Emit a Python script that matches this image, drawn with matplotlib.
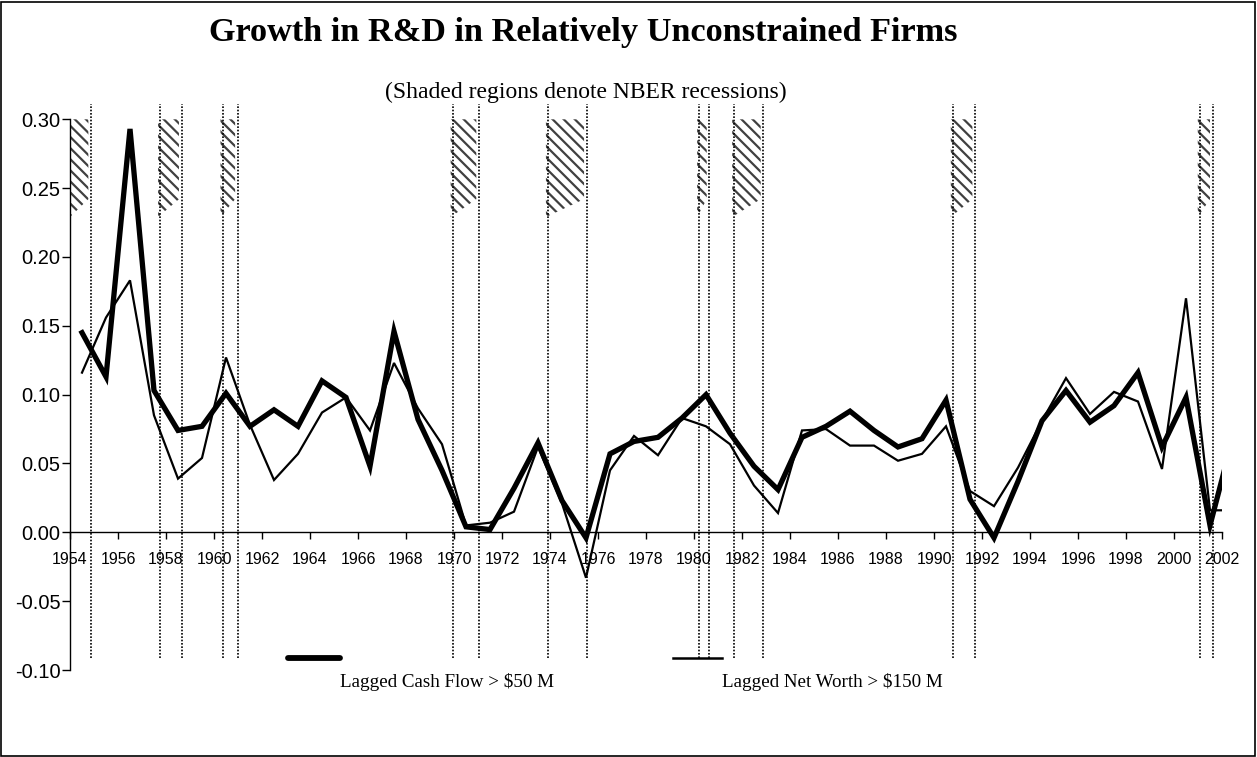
import matplotlib
matplotlib.use("Agg")
import matplotlib.pyplot as plt
from matplotlib.patches import Polygon, Rectangle
from matplotlib.lines import Line2D
import numpy as np

# ---- data ----
years = list(range(1954, 2003))  # plotted at mid-year
cash_flow = [0.145, 0.113, 0.293, 0.103, 0.074, 0.077, 0.101, 0.077, 0.089, 0.077,
             0.110, 0.098, 0.048, 0.146, 0.082, 0.045, 0.004, 0.002, 0.032, 0.065,
             0.023, -0.004, 0.057, 0.066, 0.069, 0.083, 0.100, 0.072, 0.048, 0.031,
             0.069, 0.077, 0.088, 0.074, 0.062, 0.068, 0.096, 0.024, -0.004, 0.037,
             0.081, 0.103, 0.080, 0.092, 0.116, 0.062, 0.098, 0.005, 0.072]
net_worth = [0.116, 0.156, 0.183, 0.085, 0.039, 0.054, 0.127, 0.078, 0.038, 0.057,
             0.087, 0.098, 0.074, 0.123, 0.090, 0.064, 0.005, 0.007, 0.015, 0.062,
             0.021, -0.033, 0.045, 0.070, 0.056, 0.083, 0.077, 0.064, 0.034, 0.014,
             0.074, 0.075, 0.063, 0.063, 0.052, 0.057, 0.077, 0.030, 0.019, 0.047,
             0.081, 0.112, 0.086, 0.102, 0.095, 0.046, 0.170, 0.016, 0.016]
rec_start = [1954.0, 1957.76, 1960.36, 1969.95, 1973.92, 1980.22, 1981.68, 1990.79, 2001.08]
rec_end = [1954.875, 1958.65, 1960.99, 1971.04, 1975.53, 1980.64, 1982.89, 1991.71, 2001.61]
yticks = [-0.10, -0.05, 0.00, 0.05, 0.10, 0.15, 0.20, 0.25, 0.30]
xticks = list(range(1954, 2003, 2))

title = "Growth in R&D in Relatively Unconstrained Firms"
subtitle = "(Shaded regions denote NBER recessions)"
labels = ["Lagged Cash Flow > $50 M", "Lagged Net Worth > $150 M"]

plt.rcParams["hatch.linewidth"] = 1.6

W, H = 1257, 757
fig = plt.figure(figsize=(W / 100, H / 100), dpi=100)
fig.patch.set_facecolor("white")

ax = fig.add_axes([70 / W, 87 / H, (1222 - 70) / W, (670 - 119.3) / H])
ax.set_xlim(1954, 2002)
ax.set_ylim(-0.10, 0.30)

x = np.array(years) + 0.5

# recession markers
for i, (s, e) in enumerate(zip(rec_start, rec_end)):
    if i > 0:
        ax.plot([s, s], [-0.0915, 0.311], color="black", lw=1.2,
                linestyle=(0, (1, 1)), clip_on=False, zorder=2)
    ax.plot([e, e], [-0.0915, 0.311], color="black", lw=1.2,
            linestyle=(0, (1, 1)), clip_on=False, zorder=2)
    hs = s - 0.09 if i > 0 else s
    he = e - 0.11
    poly = Polygon([(hs, 0.30), (he, 0.30), (he, 0.242), (hs, 0.229)],
                   closed=True, facecolor="white", edgecolor="#404040",
                   linewidth=0, hatch="\\\\\\", zorder=1)
    ax.add_patch(poly)

ax.plot(x, net_worth, color="black", lw=1.6, zorder=4, solid_joinstyle="miter")
ax.plot(x, cash_flow, color="black", lw=3.8, zorder=5, solid_joinstyle="miter")

# axes style
ax.spines["top"].set_visible(False)
ax.spines["right"].set_visible(False)
ax.spines["bottom"].set_position(("data", 0))
ax.spines["left"].set_linewidth(1.0)
ax.spines["bottom"].set_linewidth(1.0)
ax.set_yticks(yticks)
ax.set_yticklabels([f"{v:.2f}" for v in yticks], family="Liberation Sans", fontsize=14.5)
ax.set_xticks(xticks)
ax.set_xticklabels([str(v) for v in xticks], family="Liberation Sans", fontsize=11.5)
ax.tick_params(axis="y", direction="out", length=6, width=1, pad=1)
ax.tick_params(axis="x", direction="out", length=5, width=1, pad=9)

# titles
fig.text(583 / W, 1 - 33 / H, title, ha="center", va="center",
         family="Liberation Serif", fontweight="bold", fontsize=24.7)
fig.text(586 / W, 1 - 92 / H, subtitle, ha="center", va="center",
         family="Liberation Serif", fontsize=17)

# legend
fig.add_artist(Line2D([288 / W, 340 / W], [1 - 658 / H, 1 - 658 / H],
                      color="black", lw=4.2, solid_capstyle="round"))
fig.add_artist(Line2D([673 / W, 722 / W], [1 - 658 / H, 1 - 658 / H],
                      color="black", lw=1.8))
fig.text(340 / W, 1 - 682 / H, labels[0], ha="left", va="center",
         family="Liberation Serif", fontsize=13.7)
fig.text(722 / W, 1 - 682 / H, labels[1], ha="left", va="center",
         family="Liberation Serif", fontsize=13.7)

# chart border
fig.add_artist(Rectangle((1 / W, 1 / H), (W - 3) / W, (H - 3) / H,
                         transform=fig.transFigure, fill=False,
                         edgecolor="black", lw=1.2))

fig.savefig("out.png", dpi=100)
